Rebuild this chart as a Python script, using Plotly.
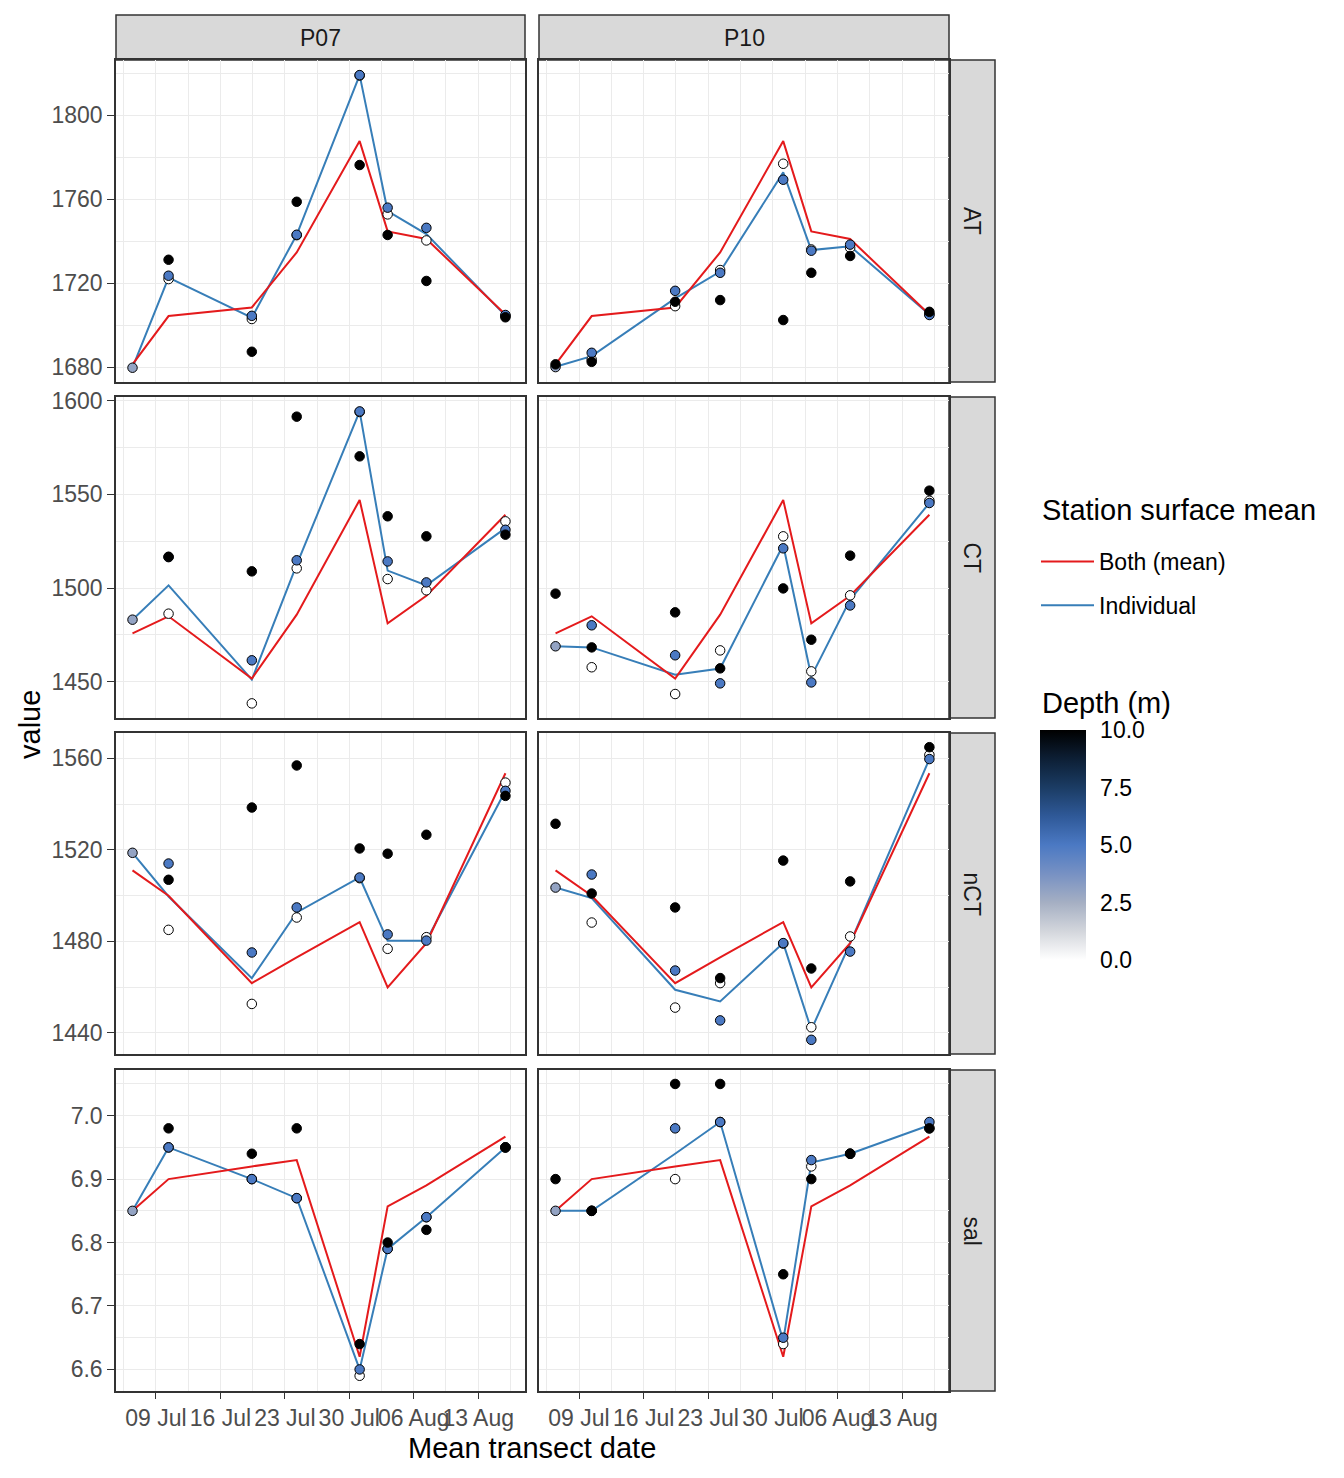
import plotly.graph_objects as go

# ---------------- data ----------------
DATES = ["2018-07-06 11:00", "2018-07-10 09:00", "2018-07-19 10:00", "2018-07-24 07:00",
         "2018-07-31 03:00", "2018-08-03 04:00", "2018-08-07 09:00", "2018-08-15 23:00"]
STATIONS = ["P07", "P10"]
VARIABLES = ["AT", "CT", "nCT", "sal"]

SURF_DEPTH = [3, 0, 0, 0, 0, 0, 0, 0]
MID_DEPTH = [5, 5, 5, 5, 5, 5, 5, 5]
DEEP_DEPTH = [10, 10, 10, 10, 10, 10, 10, 10]

# AT
AT_P07_SURF = [1679.7, 1721.9, 1702.9, 1742.8, 1818.8, 1752.7, 1740.3, 1704.4]
AT_P07_MID = [None, 1723.5, 1704.4, 1743.0, 1819.0, 1755.9, 1746.3, 1704.8]
AT_P07_DEEP = [None, 1731.1, 1687.3, 1758.7, 1776.2, 1742.9, 1721.0, 1703.7]
AT_P07_IND = [1679.7, 1722.6, 1703.5, 1743.0, 1819.0, 1754.3, 1743.3, 1704.5]
AT_P10_SURF = [1680.0, 1683.6, 1709.0, 1726.2, 1776.8, 1736.0, 1736.8, 1705.2]
AT_P10_MID = [None, 1686.8, 1716.3, 1724.9, 1769.2, 1735.4, 1738.3, 1704.8]
AT_P10_DEEP = [1681.3, 1682.5, 1711.1, 1711.9, 1702.4, 1724.9, 1732.9, 1706.3]
AT_P10_IND = [1680.2, 1685.2, 1712.7, 1725.5, 1772.7, 1735.7, 1737.5, 1705.0]
AT_MEAN = [1681.3, 1704.3, 1708.4, 1734.6, 1787.6, 1744.6, 1741.0, 1705.0]

# CT
CT_P07_SURF = [1483.1, 1486.3, 1438.4, 1510.5, 1594.0, 1504.8, 1498.8, 1535.6]
CT_P07_MID = [None, 1516.5, 1461.4, 1514.8, 1594.3, 1514.2, 1503.0, 1531.1]
CT_P07_DEEP = [None, 1516.7, 1508.9, 1591.5, 1570.3, 1538.3, 1527.6, 1528.5]
CT_P07_IND = [1483.1, 1501.4, 1451.1, 1512.5, 1594.3, 1509.3, 1501.4, 1532.0]
CT_P10_SURF = [1468.9, 1457.7, 1443.4, 1466.7, 1527.6, 1455.5, 1496.1, 1546.6]
CT_P10_MID = [None, 1480.1, 1464.1, 1449.1, 1521.2, 1449.6, 1490.7, 1545.4]
CT_P10_DEEP = [1497.0, 1468.3, 1487.0, 1457.1, 1499.8, 1472.4, 1517.3, 1552.0]
CT_P10_IND = [1468.9, 1468.3, 1453.7, 1457.0, 1523.0, 1452.8, 1493.8, 1545.4]
CT_MEAN = [1475.8, 1484.9, 1451.6, 1485.8, 1547.0, 1481.1, 1495.9, 1539.1]

# nCT
NCT_P07_SURF = [1518.7, 1485.0, 1452.6, 1490.4, 1507.6, 1476.7, 1481.8, 1549.4]
NCT_P07_MID = [None, 1514.0, 1475.1, 1494.8, 1507.9, 1483.0, 1480.3, 1545.8]
NCT_P07_DEEP = [None, 1506.9, 1538.5, 1556.9, 1520.6, 1518.3, 1526.6, 1543.6]
NCT_P07_IND = [1518.7, 1499.6, 1463.9, 1492.6, 1507.9, 1480.2, 1480.2, 1545.8]
NCT_P10_SURF = [1503.5, 1488.2, 1451.0, 1461.7, 1479.0, 1442.4, 1482.1, 1561.5]
NCT_P10_MID = [None, 1509.2, 1467.2, 1445.4, 1479.2, 1436.9, 1475.5, 1559.7]
NCT_P10_DEEP = [1531.4, 1500.9, 1494.8, 1463.9, 1515.3, 1468.1, 1506.2, 1564.9]
NCT_P10_IND = [1503.5, 1498.9, 1458.8, 1453.7, 1479.2, 1441.3, 1479.2, 1559.7]
NCT_MEAN = [1511.0, 1499.9, 1461.7, 1473.0, 1488.4, 1459.8, 1479.2, 1553.5]

# sal
SAL_P07_SURF = [6.85, 6.95, 6.90, 6.87, 6.59, 6.79, 6.84, 6.95]
SAL_P07_MID = [None, 6.95, 6.90, 6.87, 6.60, 6.79, 6.84, 6.95]
SAL_P07_DEEP = [None, 6.98, 6.94, 6.98, 6.64, 6.80, 6.82, 6.95]
SAL_P07_IND = [6.85, 6.95, 6.90, 6.87, 6.60, 6.79, 6.84, 6.95]
SAL_P10_SURF = [6.85, 6.85, 6.90, 6.99, 6.64, 6.92, 6.94, 6.98]
SAL_P10_MID = [None, 6.85, 6.98, 6.99, 6.65, 6.93, 6.94, 6.99]
SAL_P10_DEEP = [6.90, 6.85, 7.05, 7.05, 6.75, 6.90, 6.94, 6.98]
SAL_P10_IND = [6.85, 6.85, 6.94, 6.99, 6.645, 6.926, 6.94, 6.985]
SAL_MEAN = [6.85, 6.90, 6.92, 6.93, 6.62, 6.857, 6.89, 6.967]

Y_RANGES = {"AT": [1672.9, 1826.2], "CT": [1430.6, 1602.0],
            "nCT": [1430.7, 1571.1], "sal": [6.566, 7.072]}
Y_TICKS = {"AT": [1680, 1720, 1760, 1800], "CT": [1450, 1500, 1550, 1600],
           "nCT": [1440, 1480, 1520, 1560], "sal": [6.6, 6.7, 6.8, 6.9, 7.0]}
Y_TICKTEXT = {"AT": ["1680", "1720", "1760", "1800"], "CT": ["1450", "1500", "1550", "1600"],
              "nCT": ["1440", "1480", "1520", "1560"], "sal": ["6.6", "6.7", "6.8", "6.9", "7.0"]}
Y_MINOR = {"AT": [1700, 1740, 1780, 1820], "CT": [1475, 1525, 1575],
           "nCT": [1460, 1500, 1540], "sal": [6.65, 6.75, 6.85, 6.95, 7.05]}
X_TICKS = ["2018-07-09", "2018-07-16", "2018-07-23", "2018-07-30", "2018-08-06", "2018-08-13"]
X_TICKTEXT = ["09 Jul", "16 Jul", "23 Jul", "30 Jul", "06 Aug", "13 Aug"]
X_MINOR = ["2018-07-05 12:00", "2018-07-12 12:00", "2018-07-19 12:00", "2018-07-26 12:00",
           "2018-08-02 12:00", "2018-08-09 12:00", "2018-08-16 12:00"]
X_RANGE = ["2018-07-04 16:00", "2018-08-18 02:00"]
DEPTH_TICKS = [0, 2.5, 5, 7.5, 10]
DEPTH_TICKTEXT = ["0.0", "2.5", "5.0", "7.5", "10.0"]

POINTS = {
    ("AT", "P07"): (AT_P07_SURF, AT_P07_MID, AT_P07_DEEP, AT_P07_IND),
    ("AT", "P10"): (AT_P10_SURF, AT_P10_MID, AT_P10_DEEP, AT_P10_IND),
    ("CT", "P07"): (CT_P07_SURF, CT_P07_MID, CT_P07_DEEP, CT_P07_IND),
    ("CT", "P10"): (CT_P10_SURF, CT_P10_MID, CT_P10_DEEP, CT_P10_IND),
    ("nCT", "P07"): (NCT_P07_SURF, NCT_P07_MID, NCT_P07_DEEP, NCT_P07_IND),
    ("nCT", "P10"): (NCT_P10_SURF, NCT_P10_MID, NCT_P10_DEEP, NCT_P10_IND),
    ("sal", "P07"): (SAL_P07_SURF, SAL_P07_MID, SAL_P07_DEEP, SAL_P07_IND),
    ("sal", "P10"): (SAL_P10_SURF, SAL_P10_MID, SAL_P10_DEEP, SAL_P10_IND),
}
MEANS = {"AT": AT_MEAN, "CT": CT_MEAN, "nCT": NCT_MEAN, "sal": SAL_MEAN}

# ---------------- layout geometry (page pixels) ----------------
OFF = 8            # browser body margin
W, H = 1344 - 2 * OFF, 1478 - 2 * OFF
COL_X = [(116, 525), (539, 949)]
ROW_Y = [(60, 382), (397, 718), (733, 1054), (1070, 1391)]
STRIP_TOP = (15, 60)
STRIP_RIGHT = (949, 995)
CBAR_X = (1040, 1086)
CBAR_Y = (730, 960)


def px(x):
    return (x - OFF) / W


def py(y):
    return 1 - (y - OFF) / H


FONT = "Liberation Sans, Arial, sans-serif"
RED = "#E41A1C"
BLUE = "#377EB8"
GRID = "#EBEBEB"
BORDER = "#333333"
COLORSCALE = [[0.0, "#FFFFFF"], [0.125, "#D3D6DC"], [0.25, "#A5AFC3"], [0.375, "#7791C3"],
              [0.5, "#4B79C3"], [0.625, "#2F5998"], [0.75, "#1B3C64"], [0.875, "#0D1F35"],
              [1.0, "#000000"]]

fig = go.Figure()
layout = {}

for r, var in enumerate(VARIABLES):
    for c, st in enumerate(STATIONS):
        idx = r * 2 + c + 1
        xa = "x" if idx == 1 else f"x{idx}"
        ya = "y" if idx == 1 else f"y{idx}"
        surf, mid, deep, ind = POINTS[(var, st)]
        show = (r == 0 and c == 0)
        fig.add_trace(go.Scatter(x=DATES, y=ind, mode="lines", name="Individual",
                                 line=dict(color=BLUE, width=2), xaxis=xa, yaxis=ya,
                                 legendgroup="ind", legendrank=2, showlegend=show,
                                 hoverinfo="skip"))
        fig.add_trace(go.Scatter(x=DATES, y=MEANS[var], mode="lines", name="Both (mean)",
                                 line=dict(color=RED, width=2), xaxis=xa, yaxis=ya,
                                 legendgroup="both", legendrank=1, showlegend=show,
                                 hoverinfo="skip"))
        for vals, depth in ((surf, SURF_DEPTH), (mid, MID_DEPTH), (deep, DEEP_DEPTH)):
            fig.add_trace(go.Scatter(
                x=DATES, y=vals, mode="markers", showlegend=False, xaxis=xa, yaxis=ya,
                marker=dict(size=9.5, color=depth, coloraxis="coloraxis",
                            line=dict(color="black", width=1))))

        x0, x1 = COL_X[c]
        y0, y1 = ROW_Y[r]
        bottom = (r == len(VARIABLES) - 1)
        left = (c == 0)
        layout[("xaxis" if idx == 1 else f"xaxis{idx}")] = dict(
            domain=[px(x0), px(x1)], anchor=ya, type="date", range=X_RANGE,
            tickmode="array", tickvals=X_TICKS, ticktext=X_TICKTEXT, tickangle=0,
            showticklabels=bottom, ticks="outside" if bottom else "", ticklen=6,
            tickwidth=1.3, tickcolor=BORDER, automargin=False,
            tickfont=dict(size=23, color="#4D4D4D", family=FONT),
            showgrid=True, gridcolor=GRID, gridwidth=1.4,
            minor=dict(tickmode="array", tickvals=X_MINOR, showgrid=True,
                       gridcolor=GRID, gridwidth=0.8, ticks=""),
            showline=True, mirror=True, linecolor=BORDER, linewidth=1.5,
            zeroline=False, fixedrange=True)
        layout[("yaxis" if idx == 1 else f"yaxis{idx}")] = dict(
            domain=[py(y1), py(y0)], anchor=xa, range=Y_RANGES[var],
            tickmode="array", tickvals=Y_TICKS[var], ticktext=Y_TICKTEXT[var],
            showticklabels=left, ticks="outside" if left else "", ticklen=7,
            tickwidth=1.3, tickcolor=BORDER, automargin=False,
            tickfont=dict(size=23, color="#4D4D4D", family=FONT),
            showgrid=True, gridcolor=GRID, gridwidth=1.4,
            minor=dict(tickmode="array", tickvals=Y_MINOR[var], showgrid=True,
                       gridcolor=GRID, gridwidth=0.8, ticks=""),
            showline=True, mirror=True, linecolor=BORDER, linewidth=1.5,
            zeroline=False, fixedrange=True)

shapes = []
annotations = []


def ann(x, y, text, size, **kw):
    d = dict(xref="paper", yref="paper", x=px(x), y=py(y), text=text, showarrow=False,
             xanchor="center", yanchor="middle",
             font=dict(size=size, color=kw.pop("color", "black"), family=FONT))
    d.update(kw)
    annotations.append(d)


for c, st in enumerate(STATIONS):
    x0, x1 = COL_X[c]
    shapes.append(dict(type="rect", xref="paper", yref="paper", x0=px(x0), x1=px(x1),
                       y0=py(STRIP_TOP[1]), y1=py(STRIP_TOP[0]), fillcolor="#D9D9D9",
                       line=dict(color=BORDER, width=1.5), layer="below"))
    ann((x0 + x1) / 2, sum(STRIP_TOP) / 2, st, 23, color="#1A1A1A")
for r, var in enumerate(VARIABLES):
    y0, y1 = ROW_Y[r]
    shapes.append(dict(type="rect", xref="paper", yref="paper", x0=px(STRIP_RIGHT[0]),
                       x1=px(STRIP_RIGHT[1]), y0=py(y1), y1=py(y0), fillcolor="#D9D9D9",
                       line=dict(color=BORDER, width=1.5), layer="below"))
    ann(sum(STRIP_RIGHT) / 2, (y0 + y1) / 2, var, 23, color="#1A1A1A", textangle=90)

ann(532, 1448, "Mean transect date", 29)
ann(30, 725, "value", 29, textangle=-90)
ann(1040, 510, "Station surface mean", 29, xanchor="left")
ann(1040, 703, "Depth (m)", 29, xanchor="left")

# white tick marks on both edges of the colour bar (ggplot style)
for v in DEPTH_TICKS[1:-1]:
    yy = CBAR_Y[1] - v / 10 * (CBAR_Y[1] - CBAR_Y[0])
    for xa0, xa1 in ((CBAR_X[0], CBAR_X[0] + 9), (CBAR_X[1] - 9, CBAR_X[1])):
        shapes.append(dict(type="line", xref="paper", yref="paper", x0=px(xa0), x1=px(xa1),
                           y0=py(yy), y1=py(yy), line=dict(color="white", width=1.2),
                           layer="above"))

fig.update_layout(**layout)
fig.update_layout(
    width=W, height=H, autosize=False,
    margin=dict(l=0, r=0, t=0, b=0, autoexpand=False),
    paper_bgcolor="white", plot_bgcolor="white",
    font=dict(family=FONT, color="black"),
    shapes=shapes, annotations=annotations,
    showlegend=True,
    legend=dict(x=px(1036), xanchor="left", y=py(540), yanchor="top",
                font=dict(size=23, family=FONT, color="black"),
                traceorder="grouped", tracegroupgap=11, bgcolor="rgba(0,0,0,0)",
                itemwidth=53),
    coloraxis=dict(
        cmin=0, cmax=10, colorscale=COLORSCALE,
        colorbar=dict(
            tickmode="array", tickvals=DEPTH_TICKS, ticktext=DEPTH_TICKTEXT,
            ticks="outside", tickcolor="rgba(0,0,0,0)", ticklen=10,
            tickfont=dict(size=23, family=FONT, color="black"),
            thickness=CBAR_X[1] - CBAR_X[0], thicknessmode="pixels",
            len=CBAR_Y[1] - CBAR_Y[0], lenmode="pixels",
            x=px(CBAR_X[0]), xanchor="left", xpad=0,
            y=py(CBAR_Y[0]), yanchor="top", ypad=0,
            outlinewidth=0)),
)

fig.write_html("out.html")
